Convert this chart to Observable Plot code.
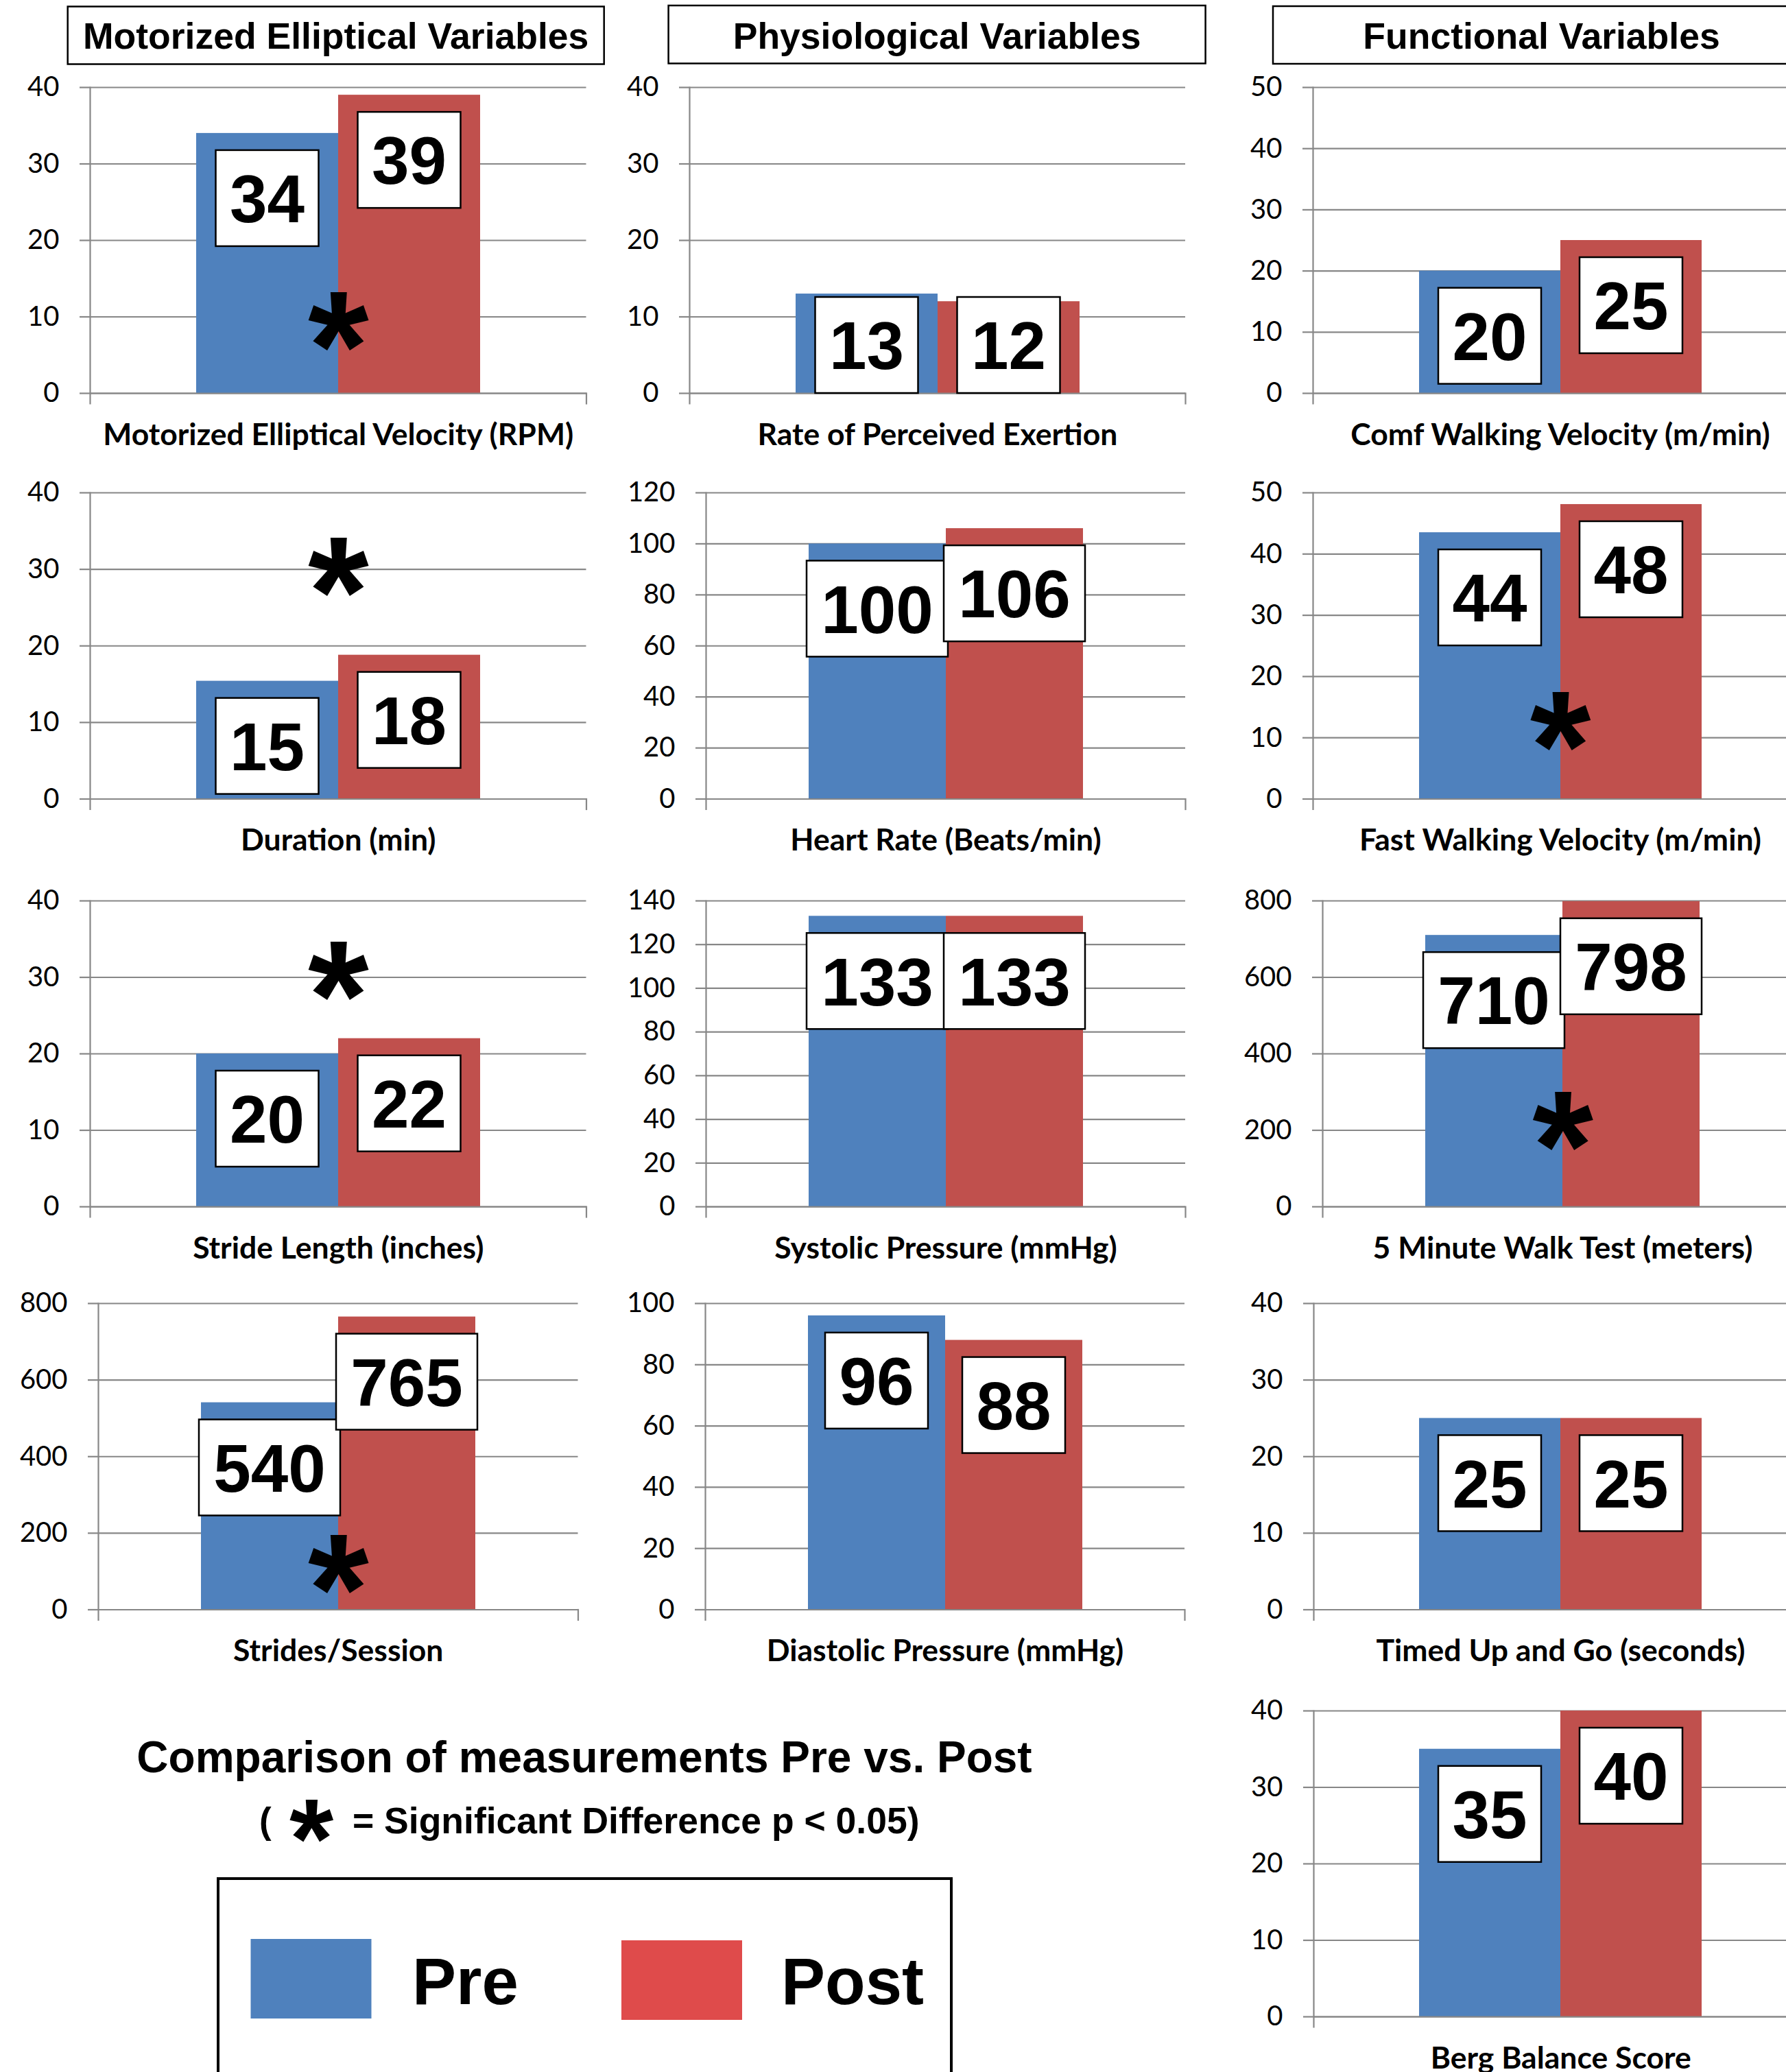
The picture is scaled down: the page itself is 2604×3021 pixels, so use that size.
<!DOCTYPE html>
<html><head><meta charset="utf-8">
<script src="https://cdn.jsdelivr.net/npm/d3@7"></script>
<script src="https://cdn.jsdelivr.net/npm/@observablehq/plot@0.6"></script>
<style>
html,body{margin:0;padding:0;background:#fff;}
#page{position:relative;width:2604px;height:3021px;overflow:hidden;background:#fff;}
#page svg{position:absolute;}
</style></head><body><div id="page"></div>
<script>
// ---------- DATA ----------
const series = ["Pre", "Post"];
const groupTitles = ["Motorized Elliptical Variables", "Physiological Variables", "Functional Variables"];
const measures = [
  "Motorized Elliptical Velocity (RPM)", "Duration (min)", "Stride Length (inches)", "Strides/Session",
  "Rate of Perceived Exertion", "Heart Rate (Beats/min)", "Systolic Pressure (mmHg)", "Diastolic Pressure (mmHg)",
  "Comf Walking Velocity (m/min)", "Fast Walking Velocity (m/min)", "5 Minute Walk Test (meters)",
  "Timed Up and Go (seconds)", "Berg Balance Score"
];
const preValues  = [34, 15.4, 20, 541, 13, 100, 133, 96, 20, 43.5, 710, 25, 35];
const postValues = [39, 18.8, 22, 765, 12, 106, 133, 88, 25, 48.1, 798.5, 25, 40];
const preLabels  = ["34", "15", "20", "540", "13", "100", "133", "96", "20", "44", "710", "25", "35"];
const postLabels = ["39", "18", "22", "765", "12", "106", "133", "88", "25", "48", "798", "25", "40"];
const yMax  = [40, 40, 40, 800, 40, 120, 140, 100, 50, 50, 800, 40, 40];
const yStep = [10, 10, 10, 200, 10, 20, 20, 20, 10, 10, 200, 10, 10];
const significantMarkY = [9.4, 30.3, 30.8, 119, null, null, null, null, null, 12.7, 224, null, null];
const mainTitle = "Comparison of measurements Pre vs. Post";
const sigNoteOpen = "(";
const sigNoteText = "= Significant Difference p < 0.05)";

// ---------- STYLE / LAYOUT ----------
const barColors = ["#4F81BD", "#C0504D"];
const legendColors = ["#4F81BD", "#DF4B4B"];
const GRID = "#878787";
const ARIAL = "'Liberation Sans', Arial, sans-serif";
const CALIBRI = "Lato, 'Open Sans', sans-serif";
const layout = [
  {axisX: 130.5, rightX: 854, row: 1}, {axisX: 130.5, rightX: 854, row: 2},
  {axisX: 130.5, rightX: 854, row: 3}, {axisX: 142.5, rightX: 842, row: 4},
  {axisX: 1005, rightX: 1728, row: 1}, {axisX: 1029, rightX: 1728, row: 2},
  {axisX: 1029, rightX: 1728, row: 3}, {axisX: 1028, rightX: 1727, row: 4},
  {axisX: 1914, rightX: 2635, row: 1}, {axisX: 1914, rightX: 2635, row: 2},
  {axisX: 1928, rightX: 2628, row: 3}, {axisX: 1915, rightX: 2635, row: 4},
  {axisX: 1914.5, rightX: 2635, row: 5}
];
const rowY = {1: [127, 573], 2: [718, 1164.5], 3: [1313, 1759], 4: [1900, 2346.5], 5: [2494, 2940]};

const page = document.getElementById("page");

// value label boxes drawn with the plot's own scales
function valueBoxes(rows) {
  return (...args) => {
    const s = args.find(a => a && typeof a.x === "function" && typeof a.y === "function");
    const g = d3.create("svg:g");
    const bw = typeof s.x.bandwidth === "function" ? s.x.bandwidth() : (s.x(series[1]) - s.x(series[0]));
    const y0 = s.y(0);
    const boxH = 140;
    for (const r of rows) {
      const cx = s.x(r.series) + bw / 2;
      const boxW = 38 + 56 * r.label.length;
      const top = Math.min(s.y(r.value) + 25, y0 - boxH);
      g.append("rect").attr("x", cx - boxW / 2).attr("y", top).attr("width", boxW).attr("height", boxH)
        .attr("fill", "white").attr("stroke", "black").attr("stroke-width", 2.5);
      g.append("text").attr("x", cx).attr("y", top + boxH / 2).attr("dy", "0.36em")
        .attr("text-anchor", "middle").attr("font-family", ARIAL).attr("font-weight", "bold")
        .attr("font-size", 98).attr("fill", "black").text(r.label);
    }
    return g.node();
  };
}

function panel(i) {
  const L = layout[i];
  const [topY, zeroY] = rowY[L.row];
  const mL = 140, mR = 10, mT = 40, mB = 110;
  const plotH = zeroY - topY;
  const width = mL + (L.rightX - L.axisX) + mR;
  const height = mT + plotH + mB;
  const rows = series.map((s, j) => ({
    series: s,
    value: [preValues, postValues][j][i],
    label: [preLabels, postLabels][j][i]
  }));
  const ticks = d3.range(0, yMax[i] + yStep[i] / 2, yStep[i]);
  const sig = significantMarkY[i] == null ? [] : [significantMarkY[i]];
  const svg = Plot.plot({
    width, height,
    marginLeft: mL, marginRight: mR, marginTop: mT, marginBottom: mB,
    style: {background: "transparent", overflow: "visible", fontFamily: CALIBRI},
    x: {domain: series, paddingInner: 0, paddingOuter: 0.745, axis: null},
    y: {domain: [0, yMax[i]]},
    color: {domain: series, range: barColors},
    marks: [
      Plot.gridY(ticks, {stroke: GRID, strokeOpacity: 1, strokeWidth: 2.2}),
      Plot.axisY(ticks, {tickSize: 15, tickPadding: 30, stroke: GRID, strokeWidth: 2.2, fill: "black",
        fontSize: 40, fontFamily: CALIBRI, tickFormat: d => String(d), label: null}),
      Plot.barY(rows, {x: "series", y: "value", fill: "series"}),
      Plot.ruleY([0], {stroke: GRID, strokeWidth: 2.2}),
      Plot.frame({anchor: "left", stroke: GRID, strokeWidth: 2.2, insetBottom: -15}),
      Plot.frame({anchor: "right", stroke: GRID, strokeWidth: 2.2, insetTop: plotH, insetBottom: -15}),
      valueBoxes(rows),
      Plot.text(sig, {y: d => d, text: () => "*", fontSize: 228, fontWeight: "bold", fontFamily: ARIAL,
        lineAnchor: "bottom", dy: 114, fill: "black"}),
      Plot.text([measures[i]], {frameAnchor: "bottom", text: d => d, dy: 75, lineAnchor: "bottom",
        fontSize: 44.5, fontWeight: "bold", fontFamily: CALIBRI, fill: "black"})
    ]
  });
  svg.style.left = (L.axisX - mL) + "px";
  svg.style.top = (topY - mT) + "px";
  svg.style.maxWidth = "none";
  page.appendChild(svg);
}

// ---------- overlay: titles, note, legend ----------
const ov = d3.create("svg").attr("width", 2604).attr("height", 3021)
  .style("left", "0px").style("top", "0px");
const titleBoxes = [[98.7, 9.5, 782, 84], [974.6, 8, 783, 84.5], [1856, 9, 783, 84]];
groupTitles.forEach((t, k) => {
  const [x, y, w, h] = titleBoxes[k];
  ov.append("rect").attr("x", x).attr("y", y).attr("width", w).attr("height", h)
    .attr("fill", "white").attr("stroke", "black").attr("stroke-width", 2.5);
  ov.append("text").attr("x", x + w / 2).attr("y", 71).attr("text-anchor", "middle")
    .attr("font-family", ARIAL).attr("font-weight", "bold").attr("font-size", 53.5).text(t);
});
ov.append("text").attr("x", 852).attr("y", 2584).attr("text-anchor", "middle")
  .attr("font-family", ARIAL).attr("font-weight", "bold").attr("font-size", 64).text(mainTitle);
ov.append("text").attr("x", 378).attr("y", 2673)
  .attr("font-family", ARIAL).attr("font-weight", "bold").attr("font-size", 53).text(sigNoteOpen);
ov.append("text").attr("x", 454).attr("y", 2671).attr("dy", 67).attr("text-anchor", "middle")
  .attr("font-family", ARIAL).attr("font-weight", "bold").attr("font-size", 165).text("*");
ov.append("text").attr("x", 514).attr("y", 2673)
  .attr("font-family", ARIAL).attr("font-weight", "bold").attr("font-size", 53.5).text(sigNoteText);
// legend
ov.append("rect").attr("x", 318).attr("y", 2739).attr("width", 1069).attr("height", 420)
  .attr("fill", "white").attr("stroke", "black").attr("stroke-width", 4);
const swX = [365.5, 906], txX = [601, 1139];
series.forEach((s, k) => {
  ov.append("rect").attr("x", swX[k]).attr("y", 2827 + 2 * k).attr("width", 176).attr("height", 116)
    .attr("fill", legendColors[k]);
  ov.append("text").attr("x", txX[k]).attr("y", 2922).attr("font-family", ARIAL)
    .attr("font-weight", "bold").attr("font-size", 96).text(s);
});
page.appendChild(ov.node());

for (let i = 0; i < measures.length; i++) panel(i);
</script></body></html>
